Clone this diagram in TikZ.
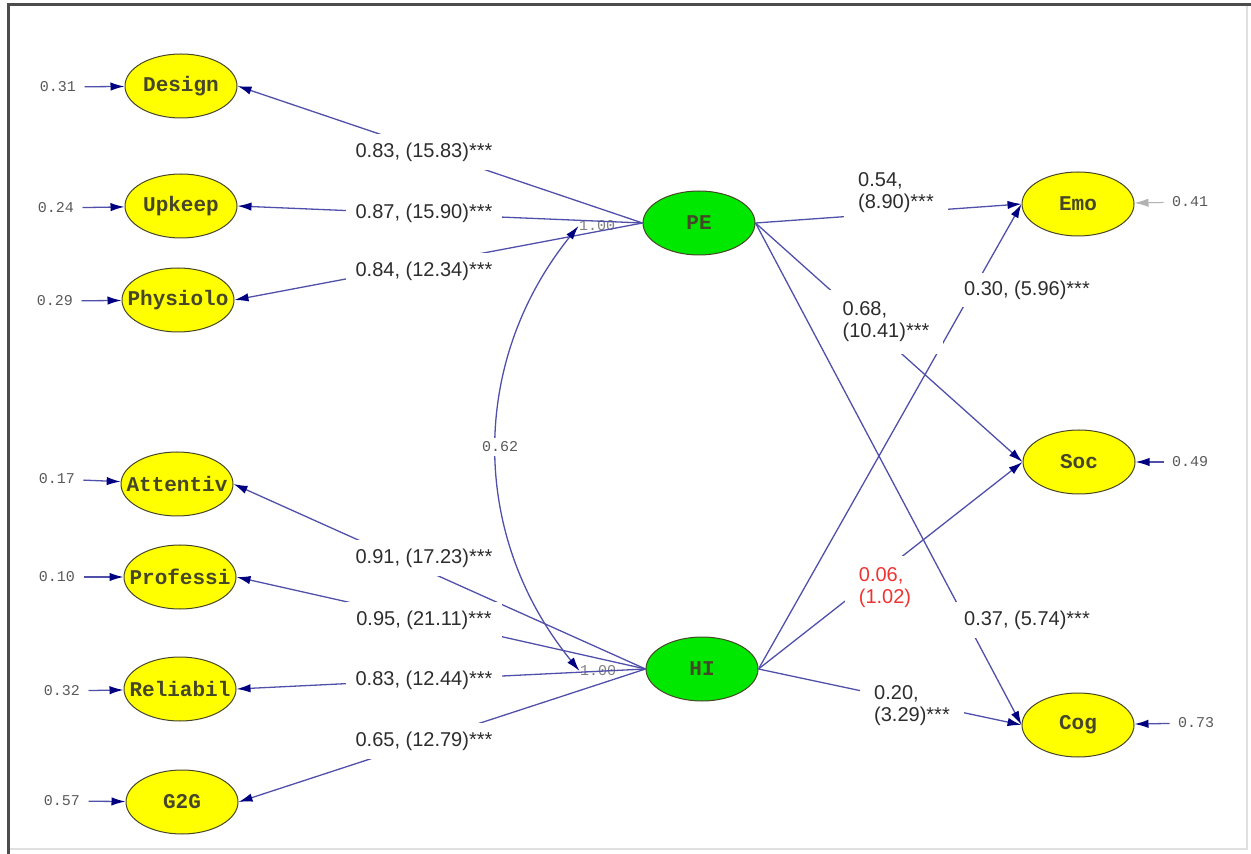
\documentclass[tikz,border=0pt]{standalone}
\usepackage{fontspec}
\setmainfont{Liberation Sans}
\newfontfamily\crfont{Liberation Mono}
\usetikzlibrary{arrows.meta,shapes.geometric}
\definecolor{lnblue}{RGB}{80,80,170}
\definecolor{tipnavy}{RGB}{0,0,128}
\definecolor{ylw}{RGB}{255,255,0}
\definecolor{grn}{RGB}{0,232,0}
\definecolor{olv}{RGB}{70,70,40}
\definecolor{txt}{RGB}{45,45,45}
\definecolor{sigred}{RGB}{240,50,50}
\tikzset{
  >={Latex[length=7pt,width=4.2pt,color=tipnavy]},
  ov/.style={ellipse,draw=olv,fill=ylw,minimum width=56pt,minimum height=32pt,inner xsep=-8pt,inner ysep=0pt,
    font=\crfont\bfseries\fontsize{10.5}{12}\selectfont,text=olv},
  lv/.style={ov,fill=grn},
  er/.style={inner xsep=4pt,inner ysep=1pt,font=\crfont\fontsize{7.5}{9}\selectfont,text=black!65},
  fx/.style={inner sep=0pt,font=\crfont\fontsize{7.5}{9}\selectfont,text=black!50},
  ld/.style={fill=white,inner xsep=5pt,inner ysep=4.5pt,font=\fontsize{10}{11}\selectfont,text=txt,align=left},
  ld2/.style={ld,inner xsep=7pt,inner ysep=6pt},
  pth/.style={draw=lnblue,line width=0.65pt},
  every picture/.style={line width=0.5pt},
}
\begin{document}
\begin{tikzpicture}[x=0.5pt,y=-0.5pt]
\useasboundingbox (0,0) rectangle (1251,854);
\draw[black!12,line width=1pt] (8,5) rectangle (1247,849);
\draw[black!70,line width=1.5pt] (8,854) -- (8,5) -- (1251,5);
\node[ov] (design) at (181,86){Design}; \node[ov] (upkeep) at (181,206){Upkeep};
\node[ov] (physio) at (178,300){Physiolo}; \node[ov] (attent) at (177,484){Attentiv};
\node[ov] (profes) at (180,577){Professi}; \node[ov] (reliab) at (180,689){Reliabil};
\node[ov] (g2g) at (182,802){G2G};
\node[lv] (pe) at (699,223){PE}; \node[lv] (hi) at (702,669){HI};
\node[ov] (emo) at (1078,204){Emo}; \node[ov] (soc) at (1079,462){Soc}; \node[ov] (cog) at (1078,725){Cog};
\node[er] (e1) at (58,87){0.31}; \node[er] (e2) at (56,208){0.24}; \node[er] (e3) at (55,301){0.29};
\node[er] (e4) at (57,479){0.17}; \node[er] (e5) at (57,577){0.10}; \node[er] (e6) at (62,691){0.32};
\node[er] (e7) at (62,801){0.57};
\node[er] (e8) at (1190,202){0.41}; \node[er] (e9) at (1190,462){0.49}; \node[er] (e10) at (1196,723){0.73};
\node[fx] (pe1) at (597,226){1.00}; \node[fx] (hi1) at (598,671){1.00};
\draw[pth,->] (e1)--(design); \draw[pth,->] (e2)--(upkeep); \draw[pth,->] (e3)--(physio);
\draw[pth,->] (e4)--(attent); \draw[pth,->] (e5)--(profes); \draw[pth,->] (e6)--(reliab);
\draw[pth,->] (e7)--(g2g);
\draw[draw=black!30,-{Latex[length=7pt,width=4.2pt,color=black!30]}] (e8)--(emo);
\draw[pth,->] (e9)--(soc); \draw[pth,->] (e10)--(cog);
\draw[pth,->] (pe.west)--(design.east); \draw[pth,->] (pe.west)--(upkeep.east);
\draw[pth,->] (pe.west)--(physio.east);
\draw[pth,->] (hi.west)--(attent.east); \draw[pth,->] (hi.west)--(profes.east);
\draw[pth,->] (hi.west)--(reliab.east); \draw[pth,->] (hi.west)--(g2g.east);
\draw[pth,->] (pe.east)--(emo.west); \draw[pth,->] (pe.east)--(soc.west); \draw[pth,->] (pe.east)--(cog.west);
\draw[pth,->] (hi.east)--(emo.west); \draw[pth,->] (hi.east)--(soc.west); \draw[pth,->] (hi.east)--(cog.west);
\draw[pth,<->] (pe1.west) to[bend right=39] (hi1.west);
\node[ld] (l1) at (424,152){0.83, (15.83)***}; \node[ld] (l2) at (424,213){0.87, (15.90)***};
\node[ld] (l3) at (424,271){0.84, (12.34)***};
\node[ld] (l4) at (424,558){0.91, (17.23)***}; \node[ld] (l5) at (424,620){0.95, (21.11)***};
\node[ld] (l6) at (424,680){0.83, (12.44)***}; \node[ld] (l7) at (424,741){0.65, (12.79)***};
\node[ld2] (s1) at (896,193){0.54,\\(8.90)***};
\node[ld2] (s2) at (886,322){0.68,\\(10.41)***};
\node[ld,inner ysep=4pt] (s3) at (1027,290){0.30, (5.96)***}; \node[ld] (s4) at (1027,620){0.37, (5.74)***};
\node[ld2,text=sigred] (s5) at (885,588){0.06,\\(1.02)};
\node[ld2] (s6) at (912,706){0.20,\\(3.29)***};
\node[fill=white,inner sep=2pt,font=\crfont\fontsize{7.5}{9}\selectfont,text=black!65] (cv) at (500,447){0.62};
\end{tikzpicture}
\end{document}
